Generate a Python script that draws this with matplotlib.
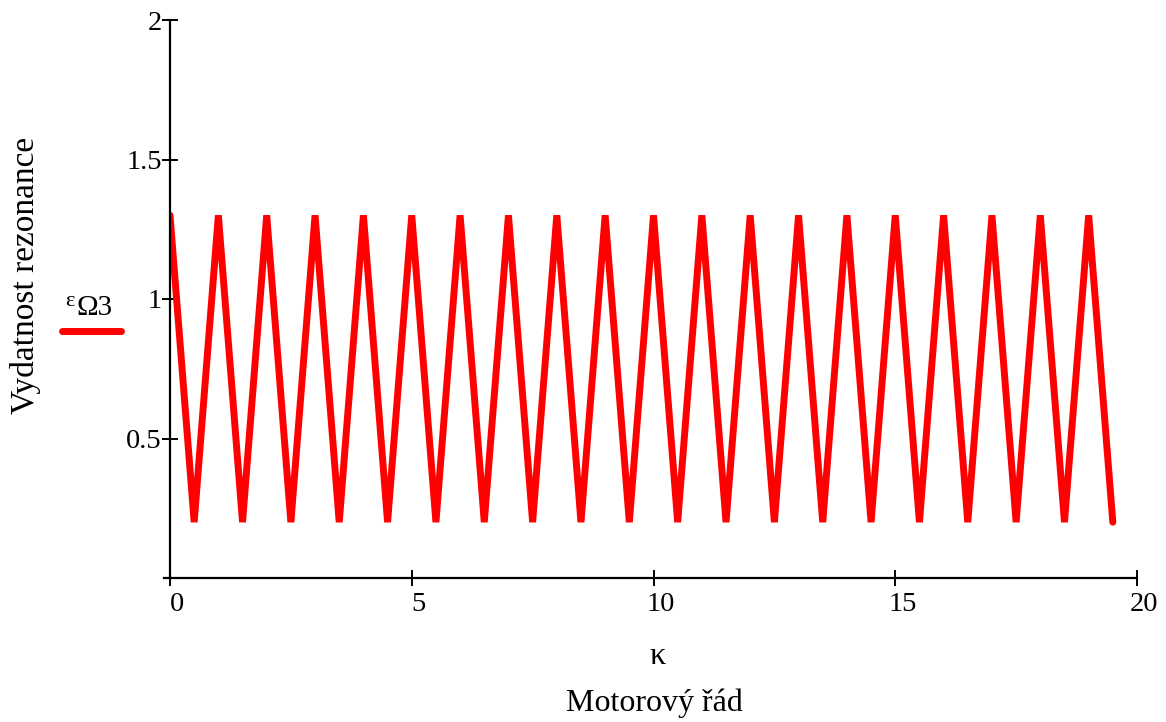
import matplotlib.pyplot as plt
import matplotlib.transforms as mtransforms

plt.rcParams['font.family'] = ['Liberation Serif', 'DejaVu Serif']

# motorovy rad (kappa) a vydatnost rezonance
kappa = [0, 0.5, 1, 1.5, 2, 2.5, 3, 3.5, 4, 4.5,
         5, 5.5, 6, 6.5, 7, 7.5, 8, 8.5, 9, 9.5,
         10, 10.5, 11, 11.5, 12, 12.5, 13, 13.5, 14, 14.5,
         15, 15.5, 16, 16.5, 17, 17.5, 18, 18.5, 19, 19.5]
eps_omega3 = [1.3, 0.2, 1.3, 0.2, 1.3, 0.2, 1.3, 0.2, 1.3, 0.2,
              1.3, 0.2, 1.3, 0.2, 1.3, 0.2, 1.3, 0.2, 1.3, 0.2,
              1.3, 0.2, 1.3, 0.2, 1.3, 0.2, 1.3, 0.2, 1.3, 0.2,
              1.3, 0.2, 1.3, 0.2, 1.3, 0.2, 1.3, 0.2, 1.3, 0.2]

xticks = [0, 5, 10, 15, 20]
yticks = [0.5, 1, 1.5, 2]
ytick_labels = ['0.5', '1', '1.5', '2']

fig = plt.figure(figsize=(11.66, 7.22), dpi=100)
ax = fig.add_axes([170 / 1166, 1 - 578 / 722, (1137 - 170) / 1166, (578 - 20) / 722])

ax.plot(kappa, eps_omega3, color='#ff0000', lw=5,
        solid_joinstyle='miter', solid_capstyle='round')

ax.set_xlim(0, 20)
ax.set_ylim(0, 2)
ax.spines['top'].set_visible(False)
ax.spines['right'].set_visible(False)
for s in ['left', 'bottom']:
    ax.spines[s].set_linewidth(1.6)

ax.set_xticks(xticks)
ax.set_xticklabels([str(t) for t in xticks])
ax.set_yticks(yticks)
ax.set_yticklabels(ytick_labels)
ax.tick_params(direction='inout', length=12, width=1.4, labelsize=20.5, colors='black')
ax.tick_params(axis='x', pad=4)
ax.tick_params(axis='y', pad=0)

# posun popisku osy x trochu doprava (jako v Mathcadu)
offset = mtransforms.ScaledTranslation(7 / 100, 0, fig.dpi_scale_trans)
for lab in ax.get_xticklabels():
    lab.set_transform(lab.get_transform() + offset)

# osa x kousek presahuje vlevo za osu y
fig.add_artist(plt.Line2D([164 / 1166, 171 / 1166], [1 - 578 / 722, 1 - 578 / 722],
                          color='black', lw=1.6))

fig.text(657 / 1166, 1 - 656 / 722, 'κ', fontsize=23, ha='center', va='center')
fig.text(654 / 1166, 1 - 703 / 722, 'Motorový řád', fontsize=23, ha='center', va='center')
fig.text(26 / 1166, 1 - 275 / 722, 'Vydatnost rezonance', fontsize=24,
         rotation=90, ha='center', va='center')

# legenda vlevo
fig.text(65 / 1166, 1 - 301 / 722, 'ε', fontsize=16, ha='left', va='center')
fig.text(77 / 1166, 1 - 308 / 722, 'Ω3', fontsize=21, ha='left', va='center')
fig.add_artist(plt.Line2D([62 / 1166, 121 / 1166], [1 - 331 / 722, 1 - 331 / 722],
                          color='#ff0000', lw=5, solid_capstyle='round'))

fig.savefig('out.png', dpi=100)
